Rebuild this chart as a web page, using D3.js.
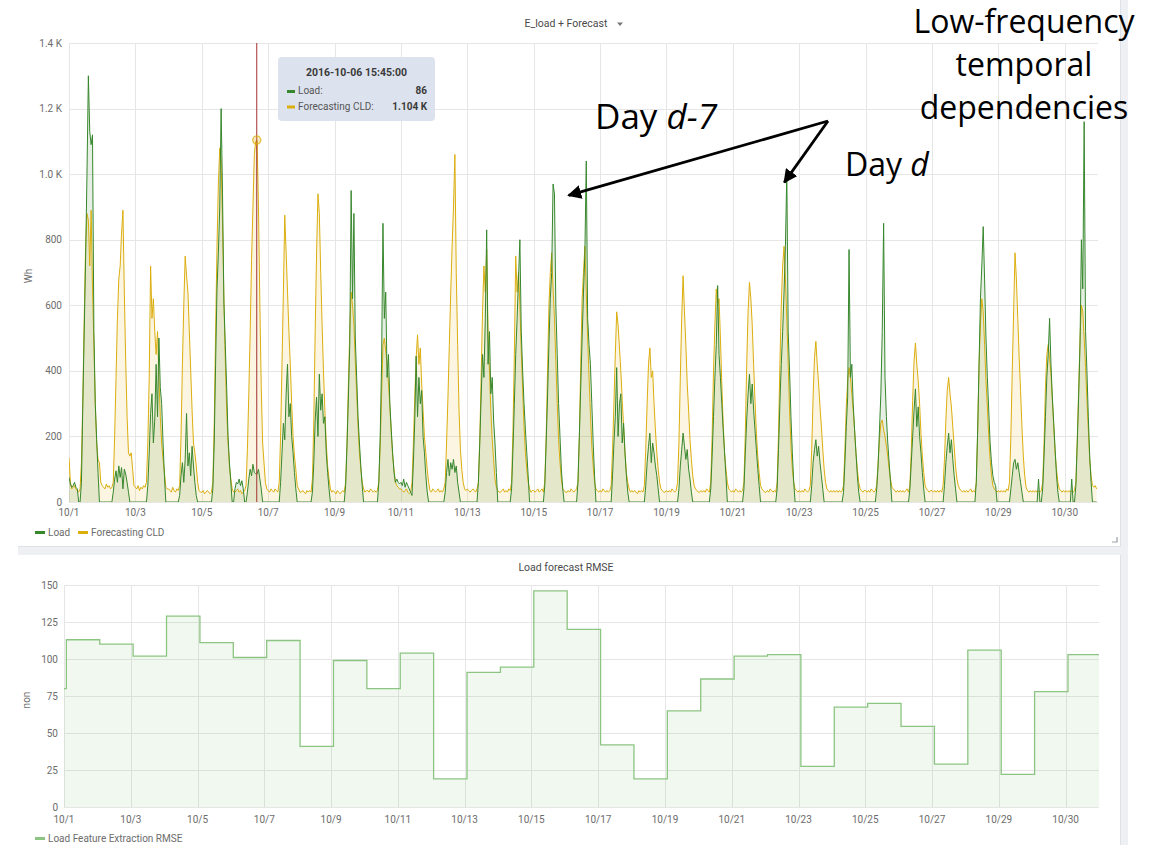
<!DOCTYPE html>
<html>
<head>
<meta charset="utf-8">
<script src="https://cdn.jsdelivr.net/npm/d3@7"></script>
<style>
  body { margin: 0; background: #fff; font-family: Roboto, "Noto Sans", sans-serif; }
  svg { display: block; }
  .tick-label { font-size: 10px; fill: #6c6c6c; }
</style>
</head>
<body>
<svg id="chart" width="1161" height="845"></svg>
<script>
// ---- Data (days from 2016-10-01 00:00) ----
const xTickDays = [0, 2, 4, 6, 8, 10, 12, 14, 16, 18, 20, 22, 24, 26, 28, 30];
const xTickLabels = ["10/1", "10/3", "10/5", "10/7", "10/9", "10/11", "10/13", "10/15",
                     "10/17", "10/19", "10/21", "10/23", "10/25", "10/27", "10/29", "10/30"];

const topYTicks = [0, 200, 400, 600, 800, 1000, 1200, 1400];
const topYLabels = ["0", "200", "400", "600", "800", "1.0 K", "1.2 K", "1.4 K"];

// hourly Load (Wh), one row per day 10/1 .. 10/31
const loadHourly = [
  [75,55,45,50,60,45,40,0,0,60,300,520,740,1000,1300,1130,1090,1120,520,300,190,90,0,0],
  [0,0,0,0,0,0,0,0,30,70,95,60,110,75,105,40,100,85,60,30,0,0,0,0],
  [0,0,0,0,0,0,0,0,0,50,150,270,330,180,250,420,260,500,350,300,180,80,0,0],
  [0,0,0,0,0,0,0,0,20,80,120,60,130,270,110,150,80,170,110,60,20,0,0,0],
  [0,0,0,0,0,0,0,0,40,180,420,650,760,900,1200,940,610,480,350,200,120,60,0,0],
  [40,60,55,70,50,65,40,0,0,30,70,100,80,115,90,86,86,100,70,40,0,0,0,0],
  [0,0,0,0,0,0,0,0,0,60,150,240,190,330,420,260,300,200,150,90,40,0,0,0],
  [0,0,0,0,0,0,0,0,30,120,250,320,200,390,280,330,240,260,150,90,40,0,0,0],
  [0,0,0,0,0,0,0,0,50,170,320,480,950,620,880,500,380,260,180,110,50,0,0,0],
  [0,0,0,0,0,0,0,0,60,200,420,850,560,640,380,450,300,220,150,90,60,70,60,55],
  [60,50,70,45,60,50,40,30,20,120,250,445,260,380,300,340,200,150,80,30,0,0,0,0],
  [0,0,0,0,0,0,0,0,30,90,130,80,120,100,130,90,110,60,30,0,0,0,0,0],
  [0,0,0,0,0,0,0,0,60,180,320,450,380,560,830,420,520,330,380,250,180,90,0,0],
  [0,0,0,0,0,0,0,0,40,160,300,450,560,680,800,520,400,300,220,150,80,0,0,0],
  [0,0,0,0,0,0,0,0,50,180,320,480,620,700,970,940,600,450,300,200,100,40,0,0],
  [0,0,0,0,0,0,0,0,60,200,350,500,640,760,1040,560,480,420,300,180,80,0,0,0],
  [0,0,0,0,0,0,0,0,0,80,180,260,410,200,300,330,180,240,150,80,30,0,0,0],
  [0,0,0,0,0,0,0,0,0,50,120,170,210,120,180,150,110,80,40,0,0,0,0,0],
  [0,0,0,0,0,0,0,0,0,40,110,160,210,170,130,160,100,70,30,0,0,0,0,0],
  [0,0,0,0,0,0,0,0,40,140,260,380,480,660,450,380,300,220,150,80,0,0,0,0],
  [0,0,0,0,0,0,0,0,40,150,250,330,390,300,360,280,220,160,100,50,0,0,0,0],
  [0,0,0,0,0,0,0,0,40,160,300,420,520,640,780,1000,520,400,260,150,60,0,0,0],
  [0,0,0,0,0,0,0,0,0,50,120,160,190,140,170,120,80,40,0,0,0,0,0,0],
  [0,0,0,0,0,0,0,0,30,120,230,320,770,380,420,300,220,150,80,30,0,0,0,0],
  [0,0,0,0,0,0,0,0,40,110,220,330,520,850,380,260,180,120,60,0,0,0,0,0],
  [0,0,0,0,0,0,0,0,40,120,200,280,345,230,290,200,150,90,40,0,0,0,0,0],
  [0,0,0,0,0,0,0,0,0,50,120,170,210,150,190,130,80,40,0,0,0,0,0,0],
  [0,0,0,0,0,0,0,0,60,220,420,620,720,840,680,500,380,280,180,120,80,60,50,0],
  [0,0,0,0,0,0,0,0,0,40,80,120,130,100,120,90,60,30,0,0,0,0,0,0],
  [0,0,0,0,0,70,0,0,40,140,260,380,450,560,420,320,240,160,80,30,0,0,0,0],
  [0,0,0,0,0,70,0,0,50,180,320,480,800,650,1160,520,400,260,140,60,0,0,0,0]
];

// hourly Forecasting CLD (Wh)
const forecastHourly = [
  [135,60,40,45,50,40,35,30,40,120,320,560,780,880,860,720,890,650,480,300,180,130,120,60],
  [50,45,40,55,45,50,40,45,60,200,380,560,680,720,820,890,640,430,260,150,140,150,100,50],
  [45,40,50,35,45,40,50,45,60,180,380,720,560,620,520,450,520,380,260,180,130,90,45,40],
  [40,35,30,45,35,30,40,35,50,200,420,600,750,690,640,520,400,280,180,150,110,60,35,30],
  [30,35,25,30,35,30,25,30,60,240,520,780,970,1080,1040,850,620,430,280,180,110,70,40,30],
  [30,35,40,30,35,25,30,35,50,160,330,520,740,900,1060,1100,1104,900,600,350,180,120,60,40],
  [35,30,40,35,30,40,35,30,60,200,420,640,875,760,640,520,420,300,200,140,100,50,40,30],
  [30,35,30,25,35,30,35,30,70,250,520,760,940,880,700,540,400,280,180,110,70,40,30,35],
  [30,25,35,30,25,30,35,30,60,180,360,520,640,600,540,430,330,230,150,100,60,40,30,35],
  [35,30,40,35,30,35,30,35,60,170,320,480,500,460,420,360,290,210,140,100,60,50,45,40],
  [40,35,30,35,40,30,25,30,60,180,320,440,510,420,470,360,280,200,150,100,60,35,30,40],
  [35,30,35,40,30,35,30,40,60,180,320,480,640,780,900,1060,700,480,280,160,100,60,40,35],
  [40,35,30,35,40,35,30,40,60,190,380,580,720,640,770,520,400,280,190,130,70,45,35,30],
  [30,35,40,30,35,30,40,35,60,220,450,750,640,700,600,460,340,230,150,100,60,40,30,35],
  [35,30,35,40,30,35,40,30,60,200,400,600,700,760,650,560,430,300,190,120,70,40,35,30],
  [30,35,30,40,35,30,35,40,60,200,420,620,700,780,640,500,380,270,170,110,60,40,35,30],
  [35,30,40,35,30,35,30,35,50,160,300,450,580,540,470,400,310,230,150,90,60,40,30,35],
  [30,35,30,25,35,30,35,30,50,160,300,420,470,380,400,300,220,150,100,60,40,35,30,30],
  [35,30,35,30,40,35,30,35,60,180,380,560,690,580,480,360,280,190,130,80,50,40,35,30],
  [30,35,30,35,30,40,35,30,60,200,400,540,650,600,620,500,360,240,150,100,60,40,35,30],
  [35,30,40,35,30,35,30,35,60,210,420,580,670,620,540,420,310,210,140,90,50,40,35,30],
  [30,35,30,40,35,30,35,30,60,210,420,600,720,780,680,560,420,280,170,100,60,40,35,30],
  [35,30,35,30,40,35,30,35,50,160,320,440,490,420,360,290,230,160,100,60,40,35,30,35],
  [30,35,30,35,30,35,30,35,50,160,290,370,410,380,330,280,220,150,100,60,40,35,30,35],
  [35,30,35,30,40,35,30,35,50,120,190,240,250,220,200,170,140,100,70,45,40,35,30,35],
  [30,35,30,35,30,35,40,30,50,160,310,430,485,420,370,300,210,140,90,50,40,35,30,35],
  [35,30,35,30,35,30,35,30,50,130,250,340,380,330,290,230,170,110,70,50,40,35,30,35],
  [30,35,30,35,40,30,35,30,60,220,420,540,620,580,480,370,290,200,130,80,50,40,35,30],
  [35,30,35,30,35,30,40,35,60,200,400,580,760,680,560,440,340,230,140,80,45,35,30,35],
  [30,35,30,35,30,35,30,35,60,180,350,450,480,440,390,310,230,150,100,60,40,35,30,35],
  [30,35,30,35,30,35,30,35,60,190,340,500,600,580,500,410,310,220,130,80,50,45,50,40]
];

// tooltip at the hovered time
const hoverDay = 5;            // 10/6
const hoverHour = 15.75;       // 15:45
const hoverTitle = "2016-10-06 15:45:00";
const hoverNames = ["Load:", "Forecasting CLD:"];
const hoverTexts = ["86", "1.104 K"];
const hoverForecast = 1104;

// daily RMSE, steps just after midnight (UTC day boundary)
const rmseValues = [80, 113, 110, 102, 129, 111, 101, 112.5, 41, 99, 80, 104, 19, 91, 94.5, 146,
                    120, 42, 19, 65, 86.5, 102, 103, 27.5, 67.5, 70, 54.5, 29, 106, 22, 78, 103];
const rmseStepHour = 1.7;
const bottomYTicks = [0, 25, 50, 75, 100, 125, 150];

// annotation arrow targets (day on the top chart, value in Wh)
const arrowTargets = [[15.05, 935], [21.55, 975]];

// ---- Drawing ----
const svg = d3.select("#chart");
const green = "#37872d";
const yellow = "#dcae0e";
const gridColor = "#e6e6e6";

// frame / panel separators
svg.append("rect").attr("x", 1121).attr("y", 0).attr("width", 7).attr("height", 845).attr("fill", "#eef0f4");
svg.append("rect").attr("x", 18).attr("y", 547).attr("width", 1110).attr("height", 8).attr("fill", "#eef0f4");
svg.append("line").attr("x1", 1120.5).attr("x2", 1120.5).attr("y1", 0).attr("y2", 547).attr("stroke", "#dde1e8");
svg.append("line").attr("x1", 1120.5).attr("x2", 1120.5).attr("y1", 555).attr("y2", 845).attr("stroke", "#dde1e8");
svg.append("line").attr("x1", 18).attr("x2", 1121).attr("y1", 546.5).attr("y2", 546.5).attr("stroke", "#dde1e8");
// resize handle
svg.append("path").attr("d", "M1117,537 V542 H1112").attr("fill", "none").attr("stroke", "#9aa0a8").attr("stroke-width", 1.2);

// ===== Top panel =====
const x1 = d3.scaleLinear().domain([0, 31]).range([69, 1098]);
const y1 = d3.scaleLinear().domain([0, 1400]).range([502, 43]);

function toSeries(rows) {
  const out = [];
  rows.forEach((row, d) => row.forEach((v, h) => out.push({ t: d + h / 24, v: v })));
  return out;
}
const loadSeries = toSeries(loadHourly);
const forecastSeries = toSeries(forecastHourly);

const gTop = svg.append("g");

// grid
gTop.selectAll(".hgrid").data(topYTicks).enter().append("line")
  .attr("x1", x1(0)).attr("x2", x1(31))
  .attr("y1", d => Math.round(y1(d)) + 0.5).attr("y2", d => Math.round(y1(d)) + 0.5)
  .attr("stroke", gridColor);
gTop.selectAll(".vgrid").data(xTickDays).enter().append("line")
  .attr("x1", d => Math.round(x1(d)) + 0.5).attr("x2", d => Math.round(x1(d)) + 0.5)
  .attr("y1", y1(1400)).attr("y2", y1(0))
  .attr("stroke", gridColor);

// y labels
gTop.selectAll(".ylab").data(topYTicks).enter().append("text")
  .attr("class", "tick-label")
  .attr("x", 62).attr("y", d => y1(d) + 3.5)
  .attr("text-anchor", "end")
  .text((d, i) => topYLabels[i]);
// x labels
gTop.selectAll(".xlab").data(xTickDays).enter().append("text")
  .attr("class", "tick-label")
  .attr("x", d => x1(d)).attr("y", 516)
  .attr("text-anchor", "middle")
  .text((d, i) => xTickLabels[i]);

gTop.append("text").attr("class", "tick-label")
  .attr("transform", "translate(32,276) rotate(-90)")
  .attr("text-anchor", "middle").text("Wh");

svg.append("clipPath").attr("id", "clipTop").append("rect")
  .attr("x", x1(0)).attr("y", y1(1400)).attr("width", x1(31) - x1(0)).attr("height", y1(0) - y1(1400));

const area1 = d3.area().x(d => x1(d.t)).y0(y1(0)).y1(d => y1(d.v));
const line1 = d3.line().x(d => x1(d.t)).y(d => y1(d.v));

const gSeries = gTop.append("g").attr("clip-path", "url(#clipTop)");
gSeries.append("path").datum(loadSeries).attr("d", area1).attr("fill", green).attr("fill-opacity", 0.13);
gSeries.append("path").datum(forecastSeries).attr("d", area1).attr("fill", yellow).attr("fill-opacity", 0.12);
gSeries.append("path").datum(forecastSeries).attr("d", line1)
  .attr("fill", "none").attr("stroke", yellow).attr("stroke-width", 1).attr("stroke-linejoin", "round");
gSeries.append("path").datum(loadSeries).attr("d", line1)
  .attr("fill", "none").attr("stroke", green).attr("stroke-width", 1).attr("stroke-linejoin", "round");

// crosshair + hover point
const hoverT = hoverDay + hoverHour / 24;
gTop.append("line")
  .attr("x1", x1(hoverT)).attr("x2", x1(hoverT))
  .attr("y1", y1(1400)).attr("y2", y1(0))
  .attr("stroke", "#a33030").attr("stroke-width", 1);
gTop.append("circle")
  .attr("cx", x1(hoverT)).attr("cy", y1(hoverForecast)).attr("r", 4)
  .attr("fill", yellow).attr("fill-opacity", 0.25)
  .attr("stroke", yellow).attr("stroke-opacity", 0.7).attr("stroke-width", 1.5);

// legend
const legTop = [{ name: "Load", color: green, x: 35 }, { name: "Forecasting CLD", color: yellow, x: 78 }];
legTop.forEach(l => {
  svg.append("rect").attr("x", l.x).attr("y", 531).attr("width", 10).attr("height", 3).attr("fill", l.color);
  svg.append("text").attr("class", "tick-label").attr("x", l.x + 13).attr("y", 535.5).text(l.name);
});

// title
svg.append("text").attr("x", 566).attr("y", 27).attr("text-anchor", "middle")
  .attr("font-size", 10.5).attr("fill", "#4a4a4a").text("E_load + Forecast");
svg.append("path").attr("d", "M617,22.5 h6 l-3,3.5 z").attr("fill", "#777");

// tooltip
const tip = svg.append("g");
tip.append("rect").attr("x", 278).attr("y", 57).attr("width", 157).attr("height", 64).attr("rx", 4)
  .attr("fill", "#dde3ee");
tip.append("text").attr("x", 356.5).attr("y", 76).attr("text-anchor", "middle")
  .attr("font-size", 10.5).attr("font-weight", "bold").attr("fill", "#3a3a3a").text(hoverTitle);
[green, yellow].forEach((c, i) => {
  const yy = 94 + i * 15.5;
  tip.append("rect").attr("x", 287).attr("y", yy - 4).attr("width", 8).attr("height", 3).attr("fill", c);
  tip.append("text").attr("x", 298).attr("y", yy).attr("font-size", 10).attr("fill", "#555").text(hoverNames[i]);
  tip.append("text").attr("x", 427).attr("y", yy).attr("text-anchor", "end")
    .attr("font-size", 10).attr("font-weight", "bold").attr("fill", "#3a3a3a").text(hoverTexts[i]);
});

// ===== Bottom panel =====
const x2 = d3.scaleLinear().domain([0, 31]).range([64, 1099]);
const y2 = d3.scaleLinear().domain([0, 150]).range([807, 585]);

const gBot = svg.append("g");
gBot.selectAll(".hgrid2").data(bottomYTicks).enter().append("line")
  .attr("x1", x2(0)).attr("x2", x2(31))
  .attr("y1", d => Math.round(y2(d)) + 0.5).attr("y2", d => Math.round(y2(d)) + 0.5)
  .attr("stroke", gridColor);
gBot.selectAll(".vgrid2").data(xTickDays).enter().append("line")
  .attr("x1", d => Math.round(x2(d)) + 0.5).attr("x2", d => Math.round(x2(d)) + 0.5)
  .attr("y1", y2(150)).attr("y2", y2(0))
  .attr("stroke", gridColor);
gBot.selectAll(".ylab2").data(bottomYTicks).enter().append("text")
  .attr("class", "tick-label")
  .attr("x", 58).attr("y", d => y2(d) + 3.5)
  .attr("text-anchor", "end").text(d => d);
gBot.selectAll(".xlab2").data(xTickDays).enter().append("text")
  .attr("class", "tick-label")
  .attr("x", d => x2(d)).attr("y", 823)
  .attr("text-anchor", "middle")
  .text((d, i) => xTickLabels[i]);
gBot.append("text").attr("class", "tick-label")
  .attr("transform", "translate(30,700) rotate(-90)")
  .attr("text-anchor", "middle").text("non");

const rmsePts = rmseValues.map((v, i) => ({ t: i === 0 ? 0 : (i - 1) + rmseStepHour / 24, v: v }));
rmsePts.push({ t: 31, v: rmseValues[rmseValues.length - 1] });

const area2 = d3.area().curve(d3.curveStepAfter).x(d => x2(d.t)).y0(y2(0)).y1(d => y2(d.v));
const line2 = d3.line().curve(d3.curveStepAfter).x(d => x2(d.t)).y(d => y2(d.v));
const rmseColor = "#73bf69";
gBot.append("path").datum(rmsePts).attr("d", area2).attr("fill", rmseColor).attr("fill-opacity", 0.1);
gBot.append("path").datum(rmsePts).attr("d", line2)
  .attr("fill", "none").attr("stroke", "#8cc581").attr("stroke-width", 1.3);

svg.append("text").attr("x", 566).attr("y", 571).attr("text-anchor", "middle")
  .attr("font-size", 10.5).attr("fill", "#4a4a4a").text("Load forecast RMSE");
svg.append("rect").attr("x", 35).attr("y", 837).attr("width", 10).attr("height", 3).attr("fill", "#8cc581");
svg.append("text").attr("class", "tick-label").attr("x", 48).attr("y", 841.5).text("Load Feature Extraction RMSE");

// ===== Annotations =====
const ann = svg.append("g").attr("font-family", "'Open Sans', 'Noto Sans', sans-serif").attr("fill", "#000");
const annLines = ["Low-frequency", "temporal", "dependencies"];
annLines.forEach((s, i) => {
  ann.append("text").attr("x", 1024).attr("y", 33 + i * 43).attr("text-anchor", "middle")
    .attr("font-size", 32).text(s);
});
const t1 = ann.append("text").attr("x", 595).attr("y", 129).attr("font-size", 35);
t1.append("tspan").text("Day ");
t1.append("tspan").attr("font-style", "italic").text("d-7");
const t2 = ann.append("text").attr("x", 845).attr("y", 176).attr("font-size", 32);
t2.append("tspan").text("Day ");
t2.append("tspan").attr("font-style", "italic").text("d");

svg.append("defs").append("marker").attr("id", "arrow")
  .attr("viewBox", "0 0 10 10").attr("refX", 9).attr("refY", 5)
  .attr("markerWidth", 5).attr("markerHeight", 5).attr("orient", "auto")
  .append("path").attr("d", "M0,0 L10,5 L0,10 z").attr("fill", "#000");
const arrowFrom = [828, 121];
arrowTargets.forEach(p => {
  ann.append("line").attr("x1", arrowFrom[0]).attr("y1", arrowFrom[1])
    .attr("x2", x1(p[0])).attr("y2", y1(p[1]))
    .attr("stroke", "#000").attr("stroke-width", 2.8).attr("marker-end", "url(#arrow)");
});
</script>
</body>
</html>
